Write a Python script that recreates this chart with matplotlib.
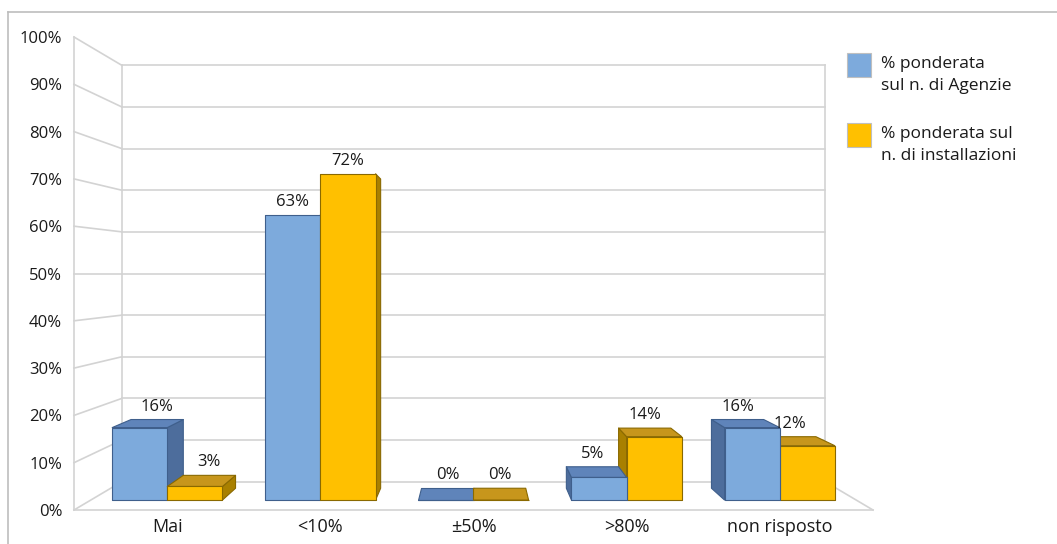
import matplotlib
matplotlib.use("Agg")
import matplotlib.pyplot as plt
from matplotlib.patches import Polygon, Rectangle
from matplotlib.lines import Line2D

categories = ["Mai", "<10%", "±50%", ">80%", "non risposto"]
agenzie = [16, 63, 0, 5, 16]
installazioni = [3, 72, 0, 14, 12]
legend_lines = [["% ponderata", "sul n. di Agenzie"],
                ["% ponderata sul", "n. di installazioni"]]
yticks = list(range(0, 101, 10))

plt.rcParams["font.family"] = ["Open Sans", "DejaVu Sans"]
plt.rcParams["font.size"] = 12
TXT = "#1A1A1A"

W, H = 1057, 544
# perspective: vanishing point in the middle of the plot, at 50%
CX, CY = len(categories) / 2, 50
S_WALL = 0.88
S_FRONT, S_BACK = 0.958, 0.908
BAR_W = 0.36
GRID = "#D3D3D3"

colors = {
    "front": ["#7DAADC", "#FFC000"],
    "side": ["#4D6D9C", "#A98000"],
    "top": ["#5F84BA", "#C7961C"],
    "edge": ["#3F5F8C", "#8A6900"],
}


def proj(x, y, s):
    return CX + (x - CX) * s, CY + (y - CY) * s


def face(ax, pts, fc, ec, z):
    ax.add_patch(Polygon([proj(*p) for p in pts], closed=True, fc=fc, ec=ec,
                         lw=0.8, zorder=z, clip_on=False, joinstyle="round"))


def draw_bar(ax, x0, x1, v, k, z):
    sf, sb = S_FRONT, S_BACK
    ec = colors["edge"][k]
    if x1 < CX - 1e-9:
        face(ax, [(x1, 0, sf), (x1, 0, sb), (x1, v, sb), (x1, v, sf)],
             colors["side"][k], ec, z)
    if x0 > CX + 1e-9:
        face(ax, [(x0, 0, sf), (x0, 0, sb), (x0, v, sb), (x0, v, sf)],
             colors["side"][k], ec, z)
    if v < CY:
        face(ax, [(x0, v, sf), (x1, v, sf), (x1, v, sb), (x0, v, sb)],
             colors["top"][k], ec, z)
    face(ax, [(x0, 0, sf), (x1, 0, sf), (x1, v, sf), (x0, v, sf)],
         colors["front"][k], ec, z)
    s = sb if v < CY else sf
    px, py = proj((x0 + x1) / 2, v, s)
    ax.annotate(f"{v}%", (px, py), xytext=(0, 3.5), textcoords="offset points",
                ha="center", va="bottom", color=TXT, zorder=10)


fig = plt.figure(figsize=(W / 100, H / 100), dpi=100)
ax = fig.add_axes([74 / W, (H - 510) / H, 799 / W, 473 / H])
ax.set_xlim(0, len(categories))
ax.set_ylim(0, 100)
ax.set_frame_on(False)
ax.set_xticks([])
ax.set_yticks(yticks, labels=[f"{t}%" for t in yticks])
ax.tick_params(axis="y", length=0, pad=8.5, labelcolor=TXT)

n = len(categories)
# walls and floor
for t in yticks:
    ax.plot(*zip(proj(0, t, 1), proj(0, t, S_WALL)), color=GRID, lw=1.2,
            clip_on=False, zorder=1)
    ax.plot(*zip(proj(0, t, S_WALL), proj(n, t, S_WALL)), color=GRID, lw=1.2,
            clip_on=False, zorder=1)
for x, s in [(0, 1), (0, S_WALL), (n, S_WALL)]:
    ax.plot(*zip(proj(x, 0, s), proj(x, 100, s)), color=GRID, lw=1.2,
            clip_on=False, zorder=1)
ax.plot(*zip(proj(0, 0, 1), proj(n, 0, 1)), color=GRID, lw=1.2, clip_on=False, zorder=1)
ax.plot(*zip(proj(n, 0, 1), proj(n, 0, S_WALL)), color=GRID, lw=1.2, clip_on=False, zorder=1)

# bars
for i, cat in enumerate(categories):
    c = i + 0.5
    bars = [(c - BAR_W, c, agenzie[i], 0), (c, c + BAR_W, installazioni[i], 1)]
    if c > CX:
        bars = bars[::-1]
    for j, (x0, x1, v, k) in enumerate(bars):
        draw_bar(ax, x0, x1, v, k, 3 + j)
    lx, ly = proj(c, 0, S_FRONT)
    ax.annotate(cat, (lx, 0), xytext=(0, -12.5), textcoords="offset points",
                ha="center", va="center", color=TXT, fontsize=13,
                annotation_clip=False)

# legend
for k, (ytop, lines) in enumerate(zip([53, 123], legend_lines)):
    fig.add_artist(Rectangle((847 / W, 1 - (ytop + 24) / H), 24 / W, 24 / H,
                             transform=fig.transFigure, fc=colors["front"][k],
                             ec="#BFBFBF", lw=0.8))
    for m, line in enumerate(lines):
        fig.text(881 / W, 1 - (ytop + 11 + m * 22.5) / H, line, ha="left",
                 va="center", color=TXT, fontsize=12.5)

# outer frame (only top and left visible)
fig.add_artist(Line2D([8 / W, 1], [1 - 12 / H, 1 - 12 / H], color="#BDBDBD", lw=1.2))
fig.add_artist(Line2D([8 / W, 8 / W], [1 - 12 / H, 0], color="#BDBDBD", lw=1.2))

fig.savefig("out.png", dpi=100)
